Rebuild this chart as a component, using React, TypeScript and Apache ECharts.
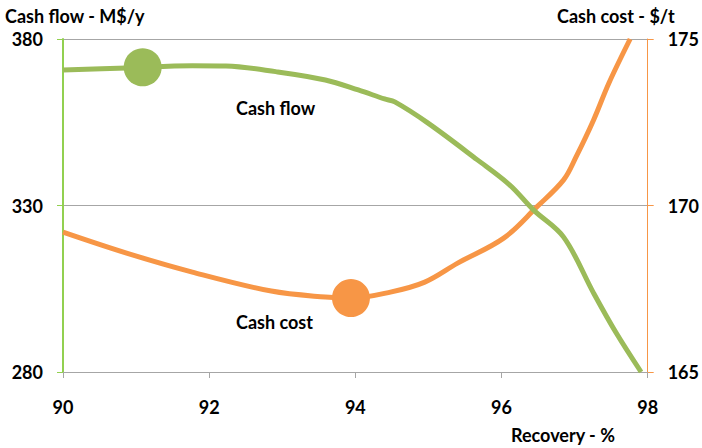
import React, { useEffect, useRef } from "react";
import * as echarts from "echarts";

// Recovery (%) vs cash flow (M$/y)
const cashFlowX = [90, 90.87, 91.77, 92.23, 92.91, 93.59, 94.04, 94.4, 94.54, 94.99, 95.67, 96.11, 96.44, 96.85, 97.26, 97.57, 97.91];
const cashFlowY = [370.7, 371.3, 372.0, 371.9, 370.2, 367.7, 364.7, 362.0, 361.1, 354.8, 343.7, 336.2, 328.6, 320.5, 303.7, 291.7, 280];

// Recovery (%) vs cash cost ($/t)
const cashCostX = [90, 90.87, 91.77, 92.85, 93.59, 93.94, 94.48, 94.95, 95.4, 96.03, 96.48, 96.85, 97.02, 97.26, 97.47, 97.76];
const cashCostY = [169.2, 168.57, 168.0, 167.43, 167.25, 167.22, 167.4, 167.7, 168.27, 169.02, 169.95, 170.77, 171.46, 172.57, 173.68, 175.0];

// Highlighted points
const cashFlowMarker = [91.09, 371.5];
const cashCostMarker = [93.94, 167.22];

const GREEN = "#9BBB59";
const ORANGE = "#F79646";
const FONT = "Lato, 'Open Sans', sans-serif";
const SIZE = 18;

export default function App() {
  const ref = useRef<HTMLDivElement>(null);

  useEffect(() => {
    if (!ref.current) return;
    const chart = echarts.init(ref.current, null, { renderer: "svg" });
    const zip = (xs: number[], ys: number[]) => xs.map((x, i) => [x, ys[i]]);
    const tickLabel = { color: "#000", fontFamily: FONT, fontWeight: "bold", fontSize: SIZE };

    chart.setOption({
      animation: false,
      grid: { left: 63, right: 50, top: 39, bottom: 76 },
      xAxis: {
        type: "value",
        min: 90,
        max: 98,
        interval: 2,
        axisLine: { lineStyle: { color: "#A6A6A6", width: 1 } },
        axisTick: { show: true, length: 6, lineStyle: { color: "#A6A6A6" } },
        splitLine: { show: false },
        axisLabel: { ...tickLabel, margin: 26 },
      },
      yAxis: [
        {
          type: "value",
          min: 280,
          max: 380,
          interval: 50,
          position: "left",
          axisLine: { show: true, lineStyle: { color: "#92D050", width: 2 } },
          axisTick: { show: true, length: 6, lineStyle: { color: "#92D050" } },
          splitLine: { show: true, lineStyle: { color: "#A6A6A6", width: 1 } },
          axisLabel: { ...tickLabel, margin: 20 },
        },
        {
          type: "value",
          min: 165,
          max: 175,
          interval: 5,
          position: "right",
          axisLine: { show: true, lineStyle: { color: ORANGE, width: 1 } },
          axisTick: { show: true, length: 6, lineStyle: { color: ORANGE } },
          splitLine: { show: false },
          axisLabel: { ...tickLabel, margin: 20 },
        },
      ],
      graphic: [
        { type: "text", left: 5, top: 7, style: { text: "Cash flow - M$/y", fill: "#000", font: `bold ${SIZE}px ${FONT}` } },
        { type: "text", left: 557, top: 7, style: { text: "Cash cost - $/t", fill: "#000", font: `bold ${SIZE}px ${FONT}` } },
        { type: "text", left: 511, top: 426, style: { text: "Recovery - %", fill: "#000", font: `bold ${SIZE}px ${FONT}` } },
        { type: "text", left: 236, top: 99, style: { text: "Cash flow", fill: "#000", font: `bold ${SIZE}px ${FONT}` } },
        { type: "text", left: 236, top: 313, style: { text: "Cash cost", fill: "#000", font: `bold ${SIZE}px ${FONT}` } },
      ],
      series: [
        {
          type: "line",
          yAxisIndex: 0,
          data: zip(cashFlowX, cashFlowY),
          smooth: 0.35,
          symbol: "none",
          lineStyle: { color: GREEN, width: 5 },
          z: 3,
        },
        {
          type: "line",
          yAxisIndex: 1,
          data: zip(cashCostX, cashCostY),
          smooth: 0.35,
          symbol: "none",
          lineStyle: { color: ORANGE, width: 5 },
          z: 2,
        },
        {
          type: "scatter",
          yAxisIndex: 0,
          data: [cashFlowMarker],
          symbol: "circle",
          symbolSize: 38,
          itemStyle: { color: GREEN, opacity: 1 },
          z: 4,
        },
        {
          type: "scatter",
          yAxisIndex: 1,
          data: [cashCostMarker],
          symbol: "circle",
          symbolSize: 38,
          itemStyle: { color: ORANGE, opacity: 1 },
          z: 4,
        },
      ],
    });

    return () => chart.dispose();
  }, []);

  return <div ref={ref} style={{ width: 702, height: 448, position: "absolute", left: 0, top: 0, background: "#fff" }} />;
}
